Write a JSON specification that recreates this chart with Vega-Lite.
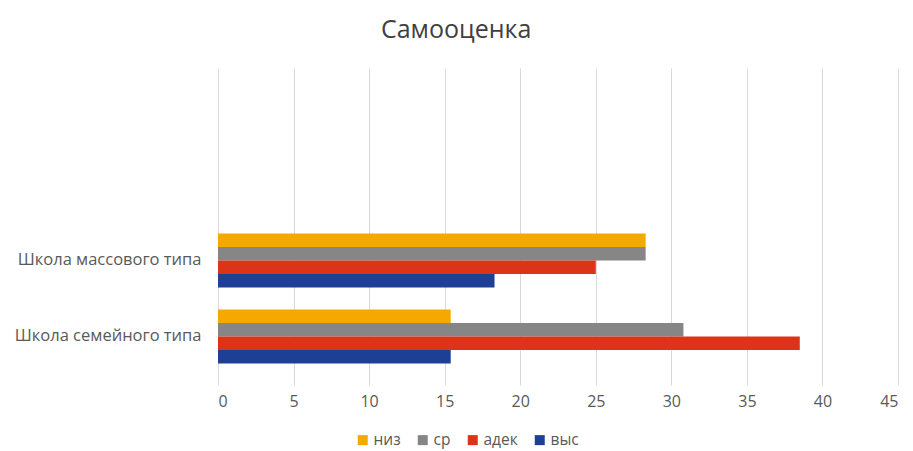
{
  "$schema": "https://vega.github.io/schema/vega-lite/v6.json",
  "width": 680,
  "height": 317,
  "autosize": {"type": "none"},
  "padding": {"left": 218, "top": 68, "right": 15, "bottom": 66},
  "background": "white",
  "title": {
    "text": "Самооценка",
    "font": "Open Sans",
    "fontSize": 25,
    "fontWeight": "normal",
    "color": "#404040",
    "anchor": "middle",
    "frame": "bounds",
    "offset": 25
  },
  "config": {
    "view": {"stroke": null},
    "font": "Open Sans"
  },
  "data": {
    "values": [
      {"school": "Школа массового типа", "level": "низ", "value": 28.3},
      {"school": "Школа массового типа", "level": "ср", "value": 28.3},
      {"school": "Школа массового типа", "level": "адек", "value": 25.0},
      {"school": "Школа массового типа", "level": "выс", "value": 18.3},
      {"school": "Школа семейного типа", "level": "низ", "value": 15.4},
      {"school": "Школа семейного типа", "level": "ср", "value": 30.8},
      {"school": "Школа семейного типа", "level": "адек", "value": 38.5},
      {"school": "Школа семейного типа", "level": "выс", "value": 15.4}
    ]
  },
  "mark": {"type": "bar"},
  "encoding": {
    "x": {
      "field": "value",
      "type": "quantitative",
      "scale": {"domain": [0, 45], "nice": false},
      "axis": {
        "title": null,
        "values": [0, 5, 10, 15, 20, 25, 30, 35, 40, 45],
        "domain": false,
        "ticks": false,
        "grid": true,
        "gridColor": "#d9d9d9",
        "gridWidth": 1,
        "labelFont": "Open Sans",
        "labelFontSize": 16,
        "labelColor": "#595959",
        "labelPadding": 8
      }
    },
    "y": {
      "field": "school",
      "type": "nominal",
      "scale": {
        "domain": [" ", "Школа массового типа", "Школа семейного типа"],
        "paddingInner": 0.289,
        "paddingOuter": 0.73,
        "align": 0.806
      },
      "axis": {
        "title": null,
        "domain": false,
        "ticks": false,
        "grid": false,
        "labelFont": "Open Sans",
        "labelFontSize": 16.5,
        "labelColor": "#595959",
        "labelPadding": 17,
        "labelLimit": 300
      }
    },
    "yOffset": {
      "field": "level",
      "type": "nominal",
      "sort": ["низ", "ср", "адек", "выс"],
      "scale": {"paddingInner": 0, "paddingOuter": 0}
    },
    "color": {
      "field": "level",
      "type": "nominal",
      "sort": ["низ", "ср", "адек", "выс"],
      "scale": {
        "domain": ["низ", "ср", "адек", "выс"],
        "range": ["#F5A800", "#868686", "#DC3319", "#1D3F95"]
      },
      "legend": {
        "title": null,
        "orient": "none",
        "direction": "horizontal",
        "legendX": 137,
        "legendY": 364,
        "symbolType": "square",
        "symbolSize": 100,
        "symbolStrokeWidth": 0,
        "labelFont": "Open Sans",
        "labelFontSize": 15.5,
        "labelColor": "#595959",
        "labelOffset": 3,
        "columnPadding": 14
      }
    }
  }
}
